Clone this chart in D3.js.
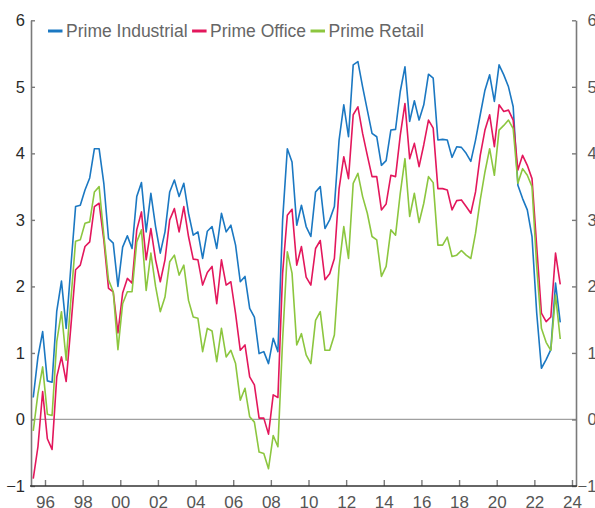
<!DOCTYPE html>
<html>
<head>
<meta charset="utf-8">
<script src="https://cdn.jsdelivr.net/npm/d3@7"></script>
<style>
  body { margin: 0; background: #fff; }
  svg { display: block; font-family: "Liberation Sans", Arial, sans-serif; }
</style>
</head>
<body>
<svg width="595" height="508"></svg>
<script>
// quarterly series, first point at 1995.375, one every quarter
var firstQuarter = 1995.375
var seriesNames = ["Prime Industrial","Prime Office","Prime Retail"]
var seriesColors = ["#1b78c2","#e3175c","#8cc63f"]

var industrial = [0.33,0.94,1.32,0.58,0.56,1.63,2.08,1.37,2.3,3.2,3.22,3.45,3.63,4.07,4.07,3.55,2.72,2.65,
  2.0,2.59,2.76,2.57,3.35,3.56,2.82,3.4,2.9,2.5,2.82,3.42,3.6,3.35,3.55,3.1,2.77,2.82,2.42,2.83,
  2.9,2.57,3.1,2.82,2.92,2.62,2.07,2.15,1.67,1.54,0.99,1.02,0.84,1.22,1.02,3.0,4.07,3.87,
  2.92,3.22,2.9,2.75,3.42,3.5,2.87,3.0,3.2,4.2,4.73,4.25,5.33,5.38,5.0,4.65,4.3,4.25,3.82,
  3.89,4.35,4.36,4.93,5.3,4.48,4.79,4.5,4.73,5.19,5.13,4.2,4.21,4.2,3.94,4.1,4.09,4.0,3.88,
  4.2,4.58,4.95,5.18,4.78,5.33,5.18,5.0,4.7,3.52,3.32,3.15,2.75,1.6,0.77,0.9,1.05,2.05,1.46]

var office = [-0.89,-0.41,0.42,-0.29,-0.45,0.64,0.94,0.57,1.4,2.25,2.32,2.6,2.67,3.2,3.25,2.7,1.97,1.92,
  1.3,1.9,2.12,2.05,2.85,3.12,2.4,2.87,2.4,2.07,2.4,3.0,3.17,2.82,3.2,2.75,2.41,2.4,2.02,2.21,
  2.3,1.74,2.4,2.02,2.07,1.59,1.04,1.12,0.64,0.52,0.02,0.02,-0.22,0.37,0.33,2.2,3.07,3.16,
  2.32,2.6,2.14,2.02,2.57,2.69,2.1,2.19,2.42,3.47,3.95,3.62,4.58,4.7,4.3,3.97,3.65,3.65,3.15,
  3.24,3.67,3.65,4.27,4.75,3.92,4.15,3.8,4.13,4.5,4.38,3.47,3.47,3.45,3.15,3.29,3.3,3.2,3.1,
  3.42,3.97,4.35,4.58,4.1,4.73,4.63,4.65,4.5,3.75,3.97,3.82,3.62,2.6,1.6,1.47,1.54,2.5,2.03]

var retail = [-0.17,0.39,0.79,0.08,0.06,1.17,1.62,0.89,1.8,2.68,2.7,2.95,2.97,3.42,3.5,2.77,2.1,1.92,
  1.05,1.74,1.92,1.92,2.67,2.85,1.94,2.5,2.0,1.62,1.84,2.37,2.47,2.17,2.32,1.79,1.54,1.52,1.02,1.37,
  1.33,0.87,1.37,0.94,1.04,0.84,0.29,0.47,0.04,-0.04,-0.49,-0.51,-0.74,-0.24,-0.41,1.2,2.52,2.2,
  1.12,1.29,0.97,0.84,1.49,1.62,1.04,1.04,1.27,2.29,2.9,2.42,3.55,3.7,3.35,3.1,2.75,2.7,2.15,
  2.3,2.85,2.77,3.4,3.92,3.05,3.4,2.96,3.25,3.65,3.56,2.62,2.62,2.74,2.45,2.47,2.54,2.47,2.42,
  2.8,3.3,3.72,4.07,3.67,4.35,4.42,4.5,4.37,3.55,3.77,3.67,3.5,2.3,1.37,1.16,1.04,1.87,1.21]

var yTicks = [-1,0,1,2,3,4,5,6]
var xTicks = [1996,1998,2000,2002,2004,2006,2008,2010,2012,2014,2016,2018,2020,2022,2024]

var allSeries = [industrial,office,retail]

var plot = {left:31,right:576,top:20.3,bottom:486}

var xScale = d3.scaleLinear()
    .domain([1996,2024])
    .range([45,572])
var yScale = d3.scaleLinear()
    .domain([-1,6])
    .range([plot.bottom,plot.top])

var svg = d3.select("svg")

//zero line
svg.append("line")
    .attr("x1",plot.left).attr("x2",plot.right)
    .attr("y1",yScale(0)).attr("y2",yScale(0))
    .attr("stroke","#a0a0a0")
    .attr("stroke-width",1.2)

//axes
var drawAxes = function()
{
    var left = svg.append("g")
        .attr("transform","translate("+plot.left+",0)")
        .call(d3.axisLeft(yScale).tickValues(yTicks).tickSize(-4).tickPadding(6)
              .tickFormat(d3.format("d")).tickSizeOuter(0))
    left.select(".domain").attr("stroke","#7a7a7a").attr("stroke-width",1.6)
    left.selectAll(".tick line").attr("stroke","#7a7a7a").attr("stroke-width",1.4)
    left.selectAll("text").attr("fill","#2a2a2a").style("font-size","16.5px")
        .attr("font-family","Liberation Sans, Arial, sans-serif")

    var right = svg.append("g")
        .attr("transform","translate("+plot.right+",0)")
        .call(d3.axisRight(yScale).tickValues(yTicks).tickSize(-4).tickPadding(11.5)
              .tickFormat(d3.format("d")).tickSizeOuter(0))
    right.select(".domain").attr("stroke","#7a7a7a").attr("stroke-width",1.6)
    right.selectAll(".tick line").attr("stroke","#7a7a7a").attr("stroke-width",1.4)
    right.selectAll("text").attr("fill","#555").style("font-size","16.5px")
        .attr("font-family","Liberation Sans, Arial, sans-serif")
        .attr("dx",function(d){ return d < 0 ? "-0.6em" : 0 })

    var bottom = svg.append("g")
        .attr("transform","translate(0,"+plot.bottom+")")
        .call(d3.axisBottom(xScale).tickValues(xTicks).tickSize(-6).tickPadding(10)
              .tickFormat(function(d){ return d3.format("02d")(d % 100) }).tickSizeOuter(0))
    bottom.select(".domain").remove()
    bottom.append("line")
        .attr("x1",plot.left-1).attr("x2",plot.right+1)
        .attr("stroke","#333").attr("stroke-width",1.6)
    bottom.selectAll(".tick line").attr("stroke","#7a7a7a").attr("stroke-width",1.4)
    bottom.selectAll("text").attr("fill","#555").style("font-size","17px")
        .attr("font-family","Liberation Sans, Arial, sans-serif")
}
drawAxes()

//lines
var lineGenerator = d3.line()
    .x(function(v,i){ return xScale(firstQuarter+i*0.25) })
    .y(function(v){ return yScale(v) })

svg.append("g")
    .selectAll("path")
    .data(allSeries)
    .enter()
    .append("path")
    .attr("d",lineGenerator)
    .attr("fill","none")
    .attr("stroke",function(d,i){ return seriesColors[i] })
    .attr("stroke-width",1.6)
    .attr("stroke-linejoin","round")

//legend
var legend = svg.append("g").attr("transform","translate(48,31)")
var lx = 0
seriesNames.forEach(function(name,i)
{
    legend.append("line")
        .attr("x1",lx).attr("x2",lx+14.5)
        .attr("stroke",seriesColors[i])
        .attr("stroke-width",3)
    var t = legend.append("text")
        .attr("x",lx+18)
        .attr("dy","0.35em")
        .attr("fill","#666")
        .style("font-size","17.5px")
        .text(name)
    lx = lx+18+t.node().getComputedTextLength()+4.5
})
</script>
</body>
</html>
